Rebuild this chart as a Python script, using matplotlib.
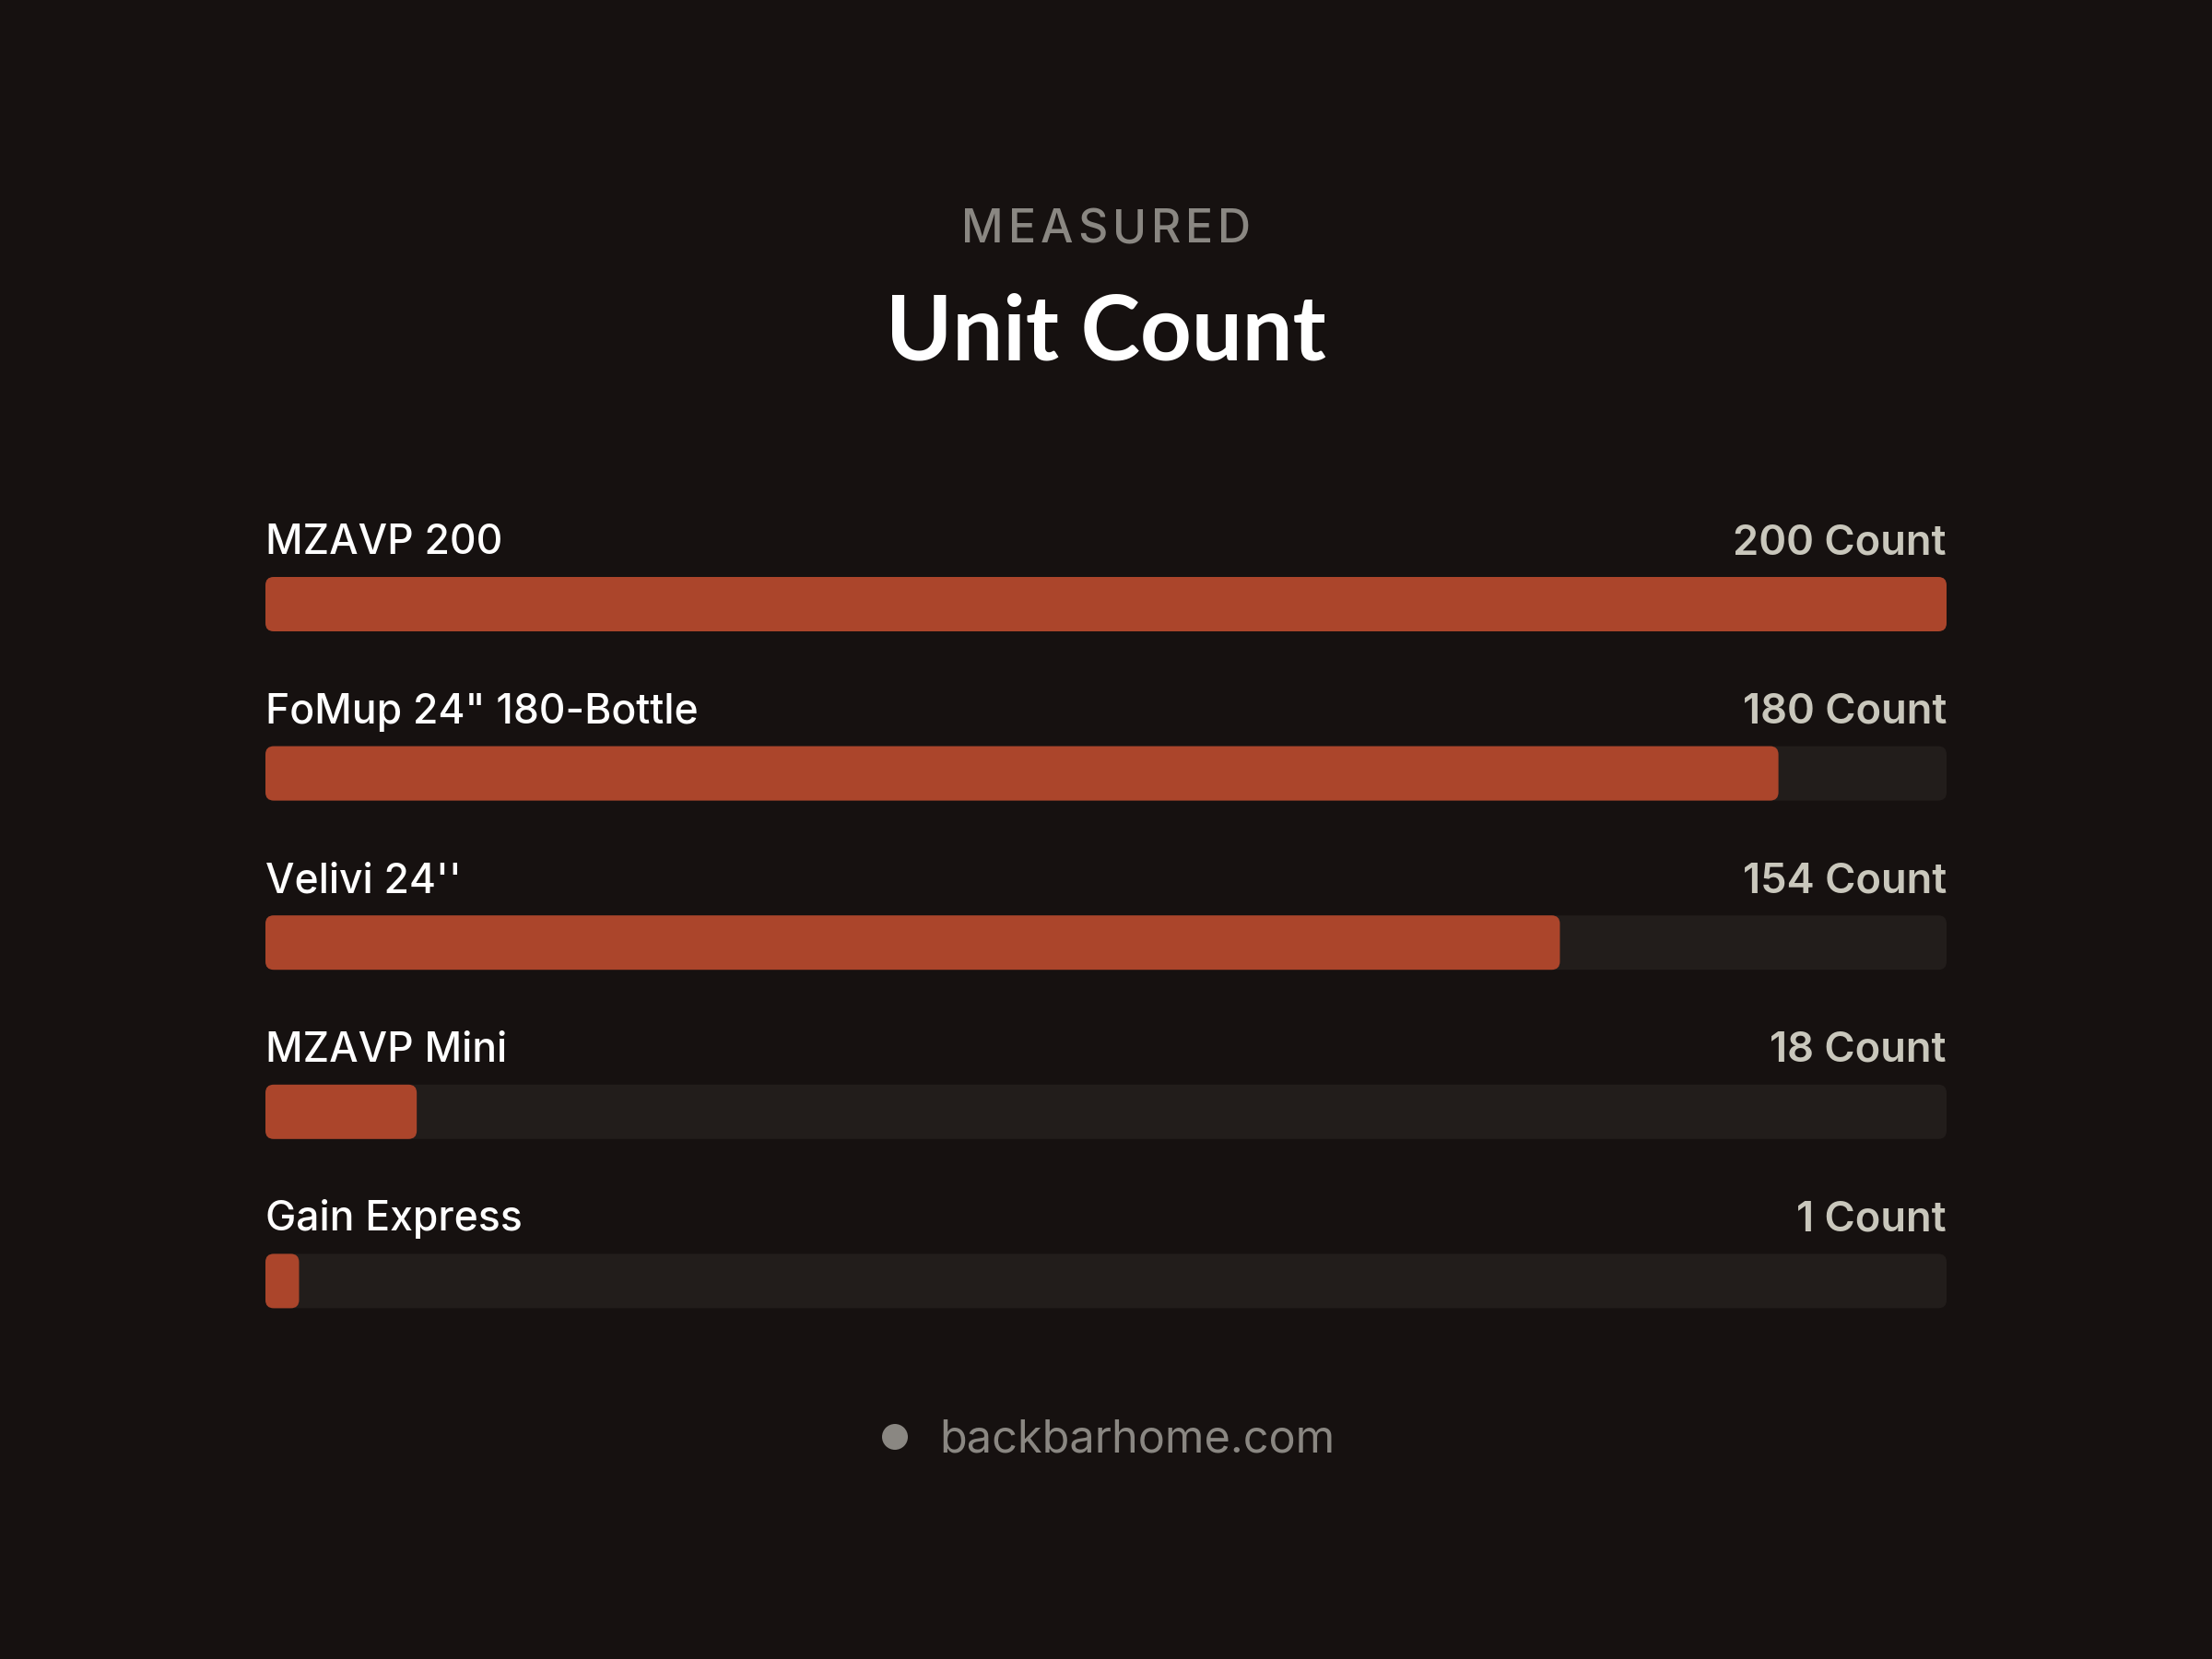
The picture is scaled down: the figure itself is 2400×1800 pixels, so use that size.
import matplotlib.pyplot as plt
from matplotlib.patches import FancyBboxPatch, Circle

# data
products = ['MZAVP 200', 'FoMup 24" 180-Bottle', "Velivi 24''", 'MZAVP Mini', 'Gain Express']
counts = [200, 180, 154, 18, 1]
unit = 'Count'
kicker = 'MEASURED'
title = 'Unit Count'
footer = 'backbarhome.com'

# colours
bg = '#161110'
track = '#221d1b'
bar_col = '#ab452b'
label_col = '#ffffff'
value_col = '#c9c7bc'
muted = '#8a8782'

W, H = 2400, 1800
fig = plt.figure(figsize=(12, 9), dpi=200, facecolor=bg)
ax = fig.add_axes([0, 0, 1, 1])
ax.set_xlim(0, W)
ax.set_ylim(H, 0)
ax.axis('off')
ax.set_facecolor(bg)

## header
ax.text(W / 2, 362, title, color='white', fontsize=35, fontfamily='Lato',
        fontweight='bold', ha='center', va='center')

# letter-spaced kicker
fig.canvas.draw()
r = fig.canvas.get_renderer()
spacing = 5
chars = []
total = 0
for ch in kicker:
    t = ax.text(0, 0, ch, fontsize=18, fontfamily='Inter', fontweight='medium')
    w = t.get_window_extent(r).width
    t.remove()
    chars.append((ch, w))
    total += w + spacing
total -= spacing
x = W / 2 - total / 2
for ch, w in chars:
    ax.text(x, 263, ch, color=muted, fontsize=18, fontfamily='Inter',
            fontweight='medium', ha='left', va='baseline')
    x += w + spacing

## bars
x0, x1 = 288, 2112
bar_h = 59
top0 = 626
step = 183.6
vmax = max(counts)
min_frac = 0.02
for i, (name, v) in enumerate(zip(products, counts)):
    top = top0 + i * step
    ax.add_patch(FancyBboxPatch((x0, top), x1 - x0, bar_h,
                                boxstyle='round,pad=0,rounding_size=9',
                                fc=track, ec='none'))
    frac = max(v / vmax, min_frac)
    ax.add_patch(FancyBboxPatch((x0, top), (x1 - x0) * frac, bar_h,
                                boxstyle='round,pad=0,rounding_size=9',
                                fc=bar_col, ec='none'))
    ax.text(x0, top - 25, name, color=label_col, fontsize=16, fontfamily='Inter',
            fontweight='medium', ha='left', va='baseline')
    ax.text(x1, top - 25, f'{v} {unit}', color=value_col, fontsize=16.3,
            fontfamily='Inter', fontweight='semibold', ha='right', va='baseline')

## footer
ax.add_patch(Circle((971, 1559), 14, fc=muted, ec='none'))
ax.text(1019, 1562, footer, color=muted, fontsize=17.5, fontfamily='Inter',
        fontweight='normal', ha='left', va='center')

fig.savefig('out.png', dpi=200, facecolor=bg)
